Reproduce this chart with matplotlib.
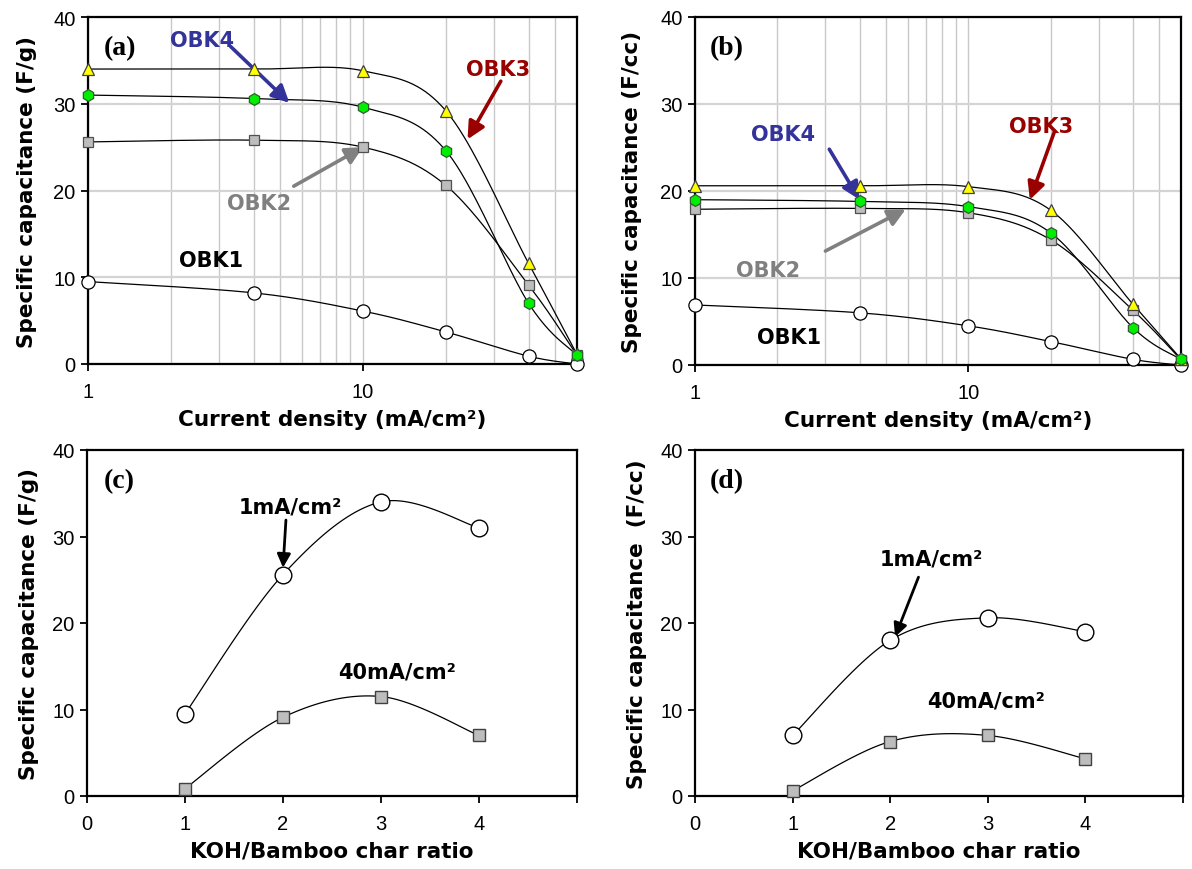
"""
Specific capacitance of OBK1-4 electrodes vs current density (a, b)
and vs KOH/bamboo-char ratio (c, d).
"""

import numpy as np
import matplotlib
matplotlib.use("Agg")
import matplotlib.pyplot as plt
from matplotlib.ticker import FixedLocator, NullFormatter

# current density sweep (mA/cm2)
current_density = [1, 4, 10, 20, 40, 60]

# (a) gravimetric capacitance, F/g
obk1_fg = [9.5, 8.2, 6.1, 3.7, 0.9, 0.0]
obk2_fg = [25.6, 25.8, 25.0, 20.6, 9.1, 1.0]
obk3_fg = [34.0, 34.0, 33.8, 29.2, 11.6, 1.1]
obk4_fg = [31.0, 30.6, 29.6, 24.6, 7.0, 1.0]

# (b) volumetric capacitance, F/cc
obk1_fcc = [6.9, 6.0, 4.5, 2.7, 0.65, 0.0]
obk2_fcc = [17.9, 18.0, 17.5, 14.4, 6.3, 0.6]
obk3_fcc = [20.6, 20.6, 20.5, 17.8, 7.0, 0.7]
obk4_fcc = [19.0, 18.8, 18.2, 15.2, 4.3, 0.65]

# (c), (d) capacitance vs KOH/char ratio
koh_ratio = [1, 2, 3, 4]
fg_1ma = [9.5, 25.6, 34.0, 31.0]
fg_40ma = [0.85, 9.1, 11.5, 7.0]
fcc_1ma = [7.0, 18.0, 20.6, 19.0]
fcc_40ma = [0.6, 6.3, 7.0, 4.3]

W, H = 1192, 870
TICK_FONT = "Liberation Sans"
BLUE, RED, GREY = "#333399", "#990000", "#808080"

plt.rcParams["font.family"] = "DejaVu Sans"


def px_axes(fig, left, top, right, bottom):
    """Axes placed by pixel box (left, top, right, bottom)."""
    return fig.add_axes([left / W, 1 - bottom / H, (right - left) / W, (bottom - top) / H])


def smooth(ax, x, y, n=40):
    """Excel-style smoothed line (Catmull-Rom Bezier) built in display space."""
    pts = ax.transData.transform(np.column_stack([x, y]))
    P = np.vstack([pts[0], pts, pts[-1]])
    t = np.linspace(0, 1, n)[:, None]
    segs = []
    for i in range(1, len(P) - 2):
        p0, p1, p2, p3 = P[i - 1], P[i], P[i + 1], P[i + 2]
        c1 = p1 + (p2 - p0) / 6
        c2 = p2 - (p3 - p1) / 6
        segs.append((1 - t) ** 3 * p1 + 3 * (1 - t) ** 2 * t * c1
                    + 3 * (1 - t) * t ** 2 * c2 + t ** 3 * p2)
    return ax.transData.inverted().transform(np.vstack(segs))


def style_axes(ax, ylabel, xlabel, ylab_x):
    for s in ax.spines.values():
        s.set_linewidth(1.6)
        s.set_color("black")
    ax.set_ylim(0, 40)
    ax.set_yticks([0, 10, 20, 30, 40])
    ax.tick_params(which="major", direction="out", length=5, width=1.3,
                   labelsize=14.5)
    ax.tick_params(axis="x", which="major", pad=8)
    ax.tick_params(axis="y", which="major", pad=4)
    for lab in ax.get_xticklabels() + ax.get_yticklabels():
        lab.set_fontfamily(TICK_FONT)
    ax.set_ylabel(ylabel, fontsize=15.5, fontweight="bold")
    ax.set_xlabel(xlabel, fontsize=15.5, fontweight="bold")
    ax.yaxis.set_label_coords(ylab_x, 0.5)
    ax.xaxis.set_label_coords(0.5, -0.13)


def panel_letter(ax, letter):
    ax.text(0.066, 0.912, f"({letter})", transform=ax.transAxes, ha="center",
            va="center", fontsize=20, fontweight="bold", family="Liberation Serif")


def arrow(ax, tail, head, color, lw=2.6, ms=26):
    ax.annotate("", xy=head, xytext=tail,
                arrowprops=dict(arrowstyle="-|>", color=color, lw=lw,
                                mutation_scale=ms, shrinkA=0, shrinkB=0))


def plot_density_panel(ax, series, ylabel, ylab_x):
    ax.set_xscale("log")
    ax.set_xlim(1, 60)
    ax.set_xticks([1, 10])
    ax.set_xticklabels(["1", "10"])
    ax.xaxis.set_minor_locator(FixedLocator([2, 3, 4, 5, 6, 7, 8, 9, 20, 30, 40, 50]))
    ax.xaxis.set_minor_formatter(NullFormatter())
    ax.tick_params(which="minor", length=0)
    style_axes(ax, ylabel, "Current density (mA/cm²)", ylab_x)
    ax.set_axisbelow(True)
    ax.grid(True, which="both", axis="x", color="#c8c8c8", lw=1.0)
    ax.grid(True, which="major", axis="y", color="#d4d4d4", lw=1.6)

    for y, _ in series:
        c = smooth(ax, current_density, y)
        ax.plot(c[:, 0], c[:, 1], color="black", lw=0.9, zorder=3)
    for y, mk in series:
        ax.plot(current_density, y, ls="none", clip_on=False, zorder=4, **mk)


def plot_ratio_panel(ax, top, bottom, ylabel, ylab_x):
    ax.set_xlim(0, 5)
    ax.set_xticks([0, 1, 2, 3, 4, 5])
    ax.set_xticklabels(["0", "1", "2", "3", "4", ""])
    style_axes(ax, ylabel, "KOH/Bamboo char ratio", ylab_x)
    for y in (top, bottom):
        c = smooth(ax, koh_ratio, y)
        ax.plot(c[:, 0], c[:, 1], color="black", lw=0.9, zorder=3)
    ax.plot(koh_ratio, top, ls="none", marker="o", ms=12, mfc="white",
            mec="black", mew=1.0, zorder=4, clip_on=False)
    ax.plot(koh_ratio, bottom, ls="none", marker="s", ms=8, mfc="#bdbdbd",
            mec="#404040", mew=1.0, zorder=4, clip_on=False)


m_obk1 = dict(marker="o", ms=9.5, mfc="white", mec="black", mew=0.9)
m_obk2 = dict(marker="s", ms=6.5, mfc="#bdbdbd", mec="#505050", mew=0.9)
m_obk3 = dict(marker="^", ms=8, mfc="#ffff00", mec="#404040", mew=0.9)
m_obk4 = dict(marker="h", ms=8.5, mfc="#00ee00", mec="#306030", mew=0.9)

fig = plt.figure(figsize=(W / 100, H / 100), dpi=100)
lbl = dict(fontsize=15, fontweight="bold", ha="center", va="center")

# (a)
ax_a = px_axes(fig, 88, 18, 577, 365)
plot_density_panel(ax_a, [(obk1_fg, m_obk1), (obk2_fg, m_obk2),
                          (obk3_fg, m_obk3), (obk4_fg, m_obk4)],
                   "Specific capacitance (F/g)", -0.105)
panel_letter(ax_a, "a")
ax_a.text(2.6, 37.3, "OBK4", color=BLUE, **lbl)
arrow(ax_a, (3.3, 36.6), (5.4, 30.1), BLUE)
ax_a.text(31, 34.0, "OBK3", color=RED, **lbl)
arrow(ax_a, (31.7, 32.6), (24.0, 25.9), RED)
ax_a.text(4.2, 18.6, "OBK2", color=GREY, **lbl)
arrow(ax_a, (5.6, 20.5), (10.0, 25.0), GREY)
ax_a.text(2.8, 12.0, "OBK1", color="black", **lbl)

# (b)
ax_b = px_axes(fig, 695, 18, 1181, 366)
plot_density_panel(ax_b, [(obk1_fcc, m_obk1), (obk2_fcc, m_obk2),
                          (obk3_fcc, m_obk3), (obk4_fcc, m_obk4)],
                   "Specific capacitance (F/cc)", -0.11)
panel_letter(ax_b, "b")
ax_b.text(2.1, 26.5, "OBK4", color=BLUE, **lbl)
arrow(ax_b, (3.1, 24.8), (4.0, 19.0), BLUE)
ax_b.text(18.5, 27.5, "OBK3", color=RED, **lbl)
arrow(ax_b, (20.7, 26.9), (16.8, 19.0), RED)
ax_b.text(1.85, 10.9, "OBK2", color=GREY, **lbl)
arrow(ax_b, (3.0, 13.1), (5.9, 17.9), GREY)
ax_b.text(2.2, 3.2, "OBK1", color="black", **lbl)

# (c)
ax_c = px_axes(fig, 87, 451, 577, 797)
plot_ratio_panel(ax_c, fg_1ma, fg_40ma, "Specific capacitance (F/g)", -0.098)
panel_letter(ax_c, "c")
ax_c.text(2.07, 33.5, "1mA/cm²", color="black", **lbl)
arrow(ax_c, (2.03, 31.9), (2.0, 26.4), "black", lw=2.0, ms=20)
ax_c.text(3.16, 14.4, "40mA/cm²", color="black", **lbl)

# (d)
ax_d = px_axes(fig, 695, 451, 1183, 797)
plot_ratio_panel(ax_d, fcc_1ma, fcc_40ma, "Specific capacitance  (F/cc)", -0.098)
panel_letter(ax_d, "d")
ax_d.text(2.42, 27.4, "1mA/cm²", color="black", **lbl)
arrow(ax_d, (2.29, 25.3), (2.05, 18.4), "black", lw=2.0, ms=20)
ax_d.text(2.98, 11.0, "40mA/cm²", color="black", **lbl)

fig.savefig("out.png", dpi=100)
